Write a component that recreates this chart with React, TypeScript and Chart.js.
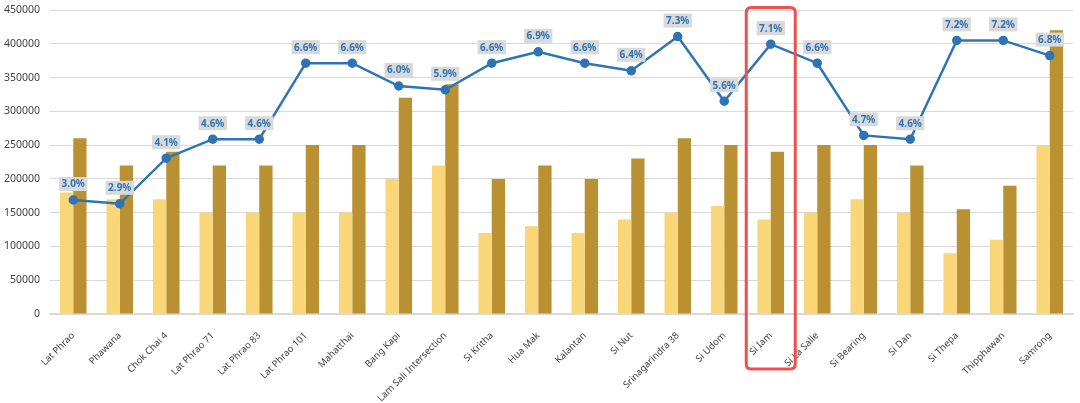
import React, { useEffect, useRef } from "react";
import { Chart, registerables } from "chart.js";

Chart.register(...registerables);

const categories = [
  "Lat Phrao", "Phawana", "Chok Chai 4", "Lat Phrao 71", "Lat Phrao 83", "Lat Phrao 101",
  "Mahatthai", "Bang Kapi", "Lam Sali Intersection", "Si Kritha", "Hua Mak", "Kalantan",
  "Si Nut", "Srinagarindra 38", "Si Udom", "Si Iam", "Si La Salle", "Si Bearing",
  "Si Dan", "Si Thepa", "Thipphawan", "Samrong",
];

const lightValues = [
  180000, 170000, 170000, 150000, 150000, 150000, 150000, 200000, 220000, 120000, 130000,
  120000, 140000, 150000, 160000, 140000, 150000, 170000, 150000, 90000, 110000, 250000,
];

const darkValues = [
  260000, 220000, 240000, 220000, 220000, 250000, 250000, 320000, 340000, 200000, 220000,
  200000, 230000, 260000, 250000, 240000, 250000, 250000, 220000, 155000, 190000, 420000,
];

const pctValues = [
  3.0, 2.9, 4.1, 4.6, 4.6, 6.6, 6.6, 6.0, 5.9, 6.6, 6.9,
  6.6, 6.4, 7.3, 5.6, 7.1, 6.6, 4.7, 4.6, 7.2, 7.2, 6.8,
];

const yTicks = [0, 50000, 100000, 150000, 200000, 250000, 300000, 350000, 400000, 450000];

const highlightCategory = "Si Iam";

const FONT = "'Noto Sans', 'DejaVu Sans', sans-serif";

const labelPlugin = {
  id: "pctLabels",
  afterDatasetsDraw(chart: any) {
    const ctx = chart.ctx;
    const meta = chart.getDatasetMeta(2);
    ctx.save();
    ctx.font = `bold 10px ${FONT}`;
    ctx.textAlign = "center";
    ctx.textBaseline = "middle";
    meta.data.forEach((pt: any, i: number) => {
      const txt = pctValues[i].toFixed(1) + "%";
      const w = ctx.measureText(txt).width + 5;
      const h = 14;
      const cx = pt.x;
      const cy = pt.y - 16;
      ctx.fillStyle = "#d9d9d9";
      ctx.fillRect(cx - w / 2, cy - h / 2, w, h);
      ctx.fillStyle = "#2e74b5";
      ctx.fillText(txt, cx, cy + 0.5);
    });
    ctx.restore();
  },
};

const highlightPlugin = {
  id: "highlightBox",
  afterDraw(chart: any) {
    const ctx = chart.ctx;
    const idx = categories.indexOf(highlightCategory);
    const xs = chart.scales.x;
    const cx = xs.getPixelForValue(idx);
    const left = cx - 24.5;
    const right = cx + 24.5;
    const top = chart.chartArea.top - 2.5;
    const bottom = chart.chartArea.bottom + 55;
    const r = 5;
    ctx.save();
    ctx.strokeStyle = "#ef4f4f";
    ctx.lineWidth = 3;
    ctx.beginPath();
    ctx.moveTo(left + r, top);
    ctx.lineTo(right - r, top);
    ctx.quadraticCurveTo(right, top, right, top + r);
    ctx.lineTo(right, bottom - r);
    ctx.quadraticCurveTo(right, bottom, right - r, bottom);
    ctx.lineTo(left + r, bottom);
    ctx.quadraticCurveTo(left, bottom, left, bottom - r);
    ctx.lineTo(left, top + r);
    ctx.quadraticCurveTo(left, top, left + r, top);
    ctx.closePath();
    ctx.stroke();
    ctx.restore();
  },
};

export default function App() {
  const ref = useRef<HTMLCanvasElement | null>(null);

  useEffect(() => {
    document.body.style.margin = "0";
    const chart = new Chart(ref.current as HTMLCanvasElement, {
      type: "bar",
      data: {
        labels: categories,
        datasets: [
          {
            type: "bar",
            label: "Light",
            data: lightValues,
            backgroundColor: "#f9d779",
            categoryPercentage: 0.572,
            barPercentage: 1.0,
            order: 2,
            yAxisID: "y",
          },
          {
            type: "bar",
            label: "Dark",
            data: darkValues,
            backgroundColor: "#b99133",
            categoryPercentage: 0.572,
            barPercentage: 1.0,
            order: 2,
            yAxisID: "y",
          },
          {
            type: "line",
            label: "Pct",
            data: pctValues,
            borderColor: "#2e74b5",
            backgroundColor: "#2e74b5",
            borderWidth: 2.5,
            pointRadius: 3.5,
            pointBackgroundColor: "#2e74b5",
            pointBorderColor: "#2e74b5",
            tension: 0,
            order: 1,
            yAxisID: "y1",
            clip: false,
          },
        ] as any,
      },
      options: {
        animation: false,
        responsive: false,
        maintainAspectRatio: false,
        layout: { autoPadding: false, padding: { top: 10, right: 7, left: 0, bottom: 0 } },
        plugins: {
          legend: { display: false },
          tooltip: { enabled: false },
        },
        scales: {
          x: {
            grid: { display: false },
            border: { display: true, color: "#d9d9d9", width: 1.5 },
            ticks: {
              color: "#404040",
              font: { family: FONT, size: 9.5 },
              minRotation: 45,
              maxRotation: 45,
              autoSkip: false,
              padding: 8,
            },
            afterFit(scale: any) {
              scale.height = 89;
              scale.paddingTop = 0;
              scale.paddingBottom = 0;
            },
          },
          y: {
            min: 0,
            max: 450000,
            afterBuildTicks(scale: any) {
              scale.ticks = yTicks.map((v) => ({ value: v }));
            },
            grid: { color: "#d9d9d9", drawTicks: false, lineWidth: 1 },
            border: { display: false },
            ticks: {
              color: "#404040",
              font: { family: FONT, size: 10.5 },
              padding: 10,
              callback: (v: any) => String(v),
            },
            afterFit(scale: any) {
              scale.width = 50;
              scale.paddingTop = 0;
              scale.paddingBottom = 0;
            },
          },
          y1: {
            display: false,
            min: 0,
            max: 8,
          },
        },
      },
      plugins: [labelPlugin, highlightPlugin],
    });
    return () => chart.destroy();
  }, []);

  return (
    <div style={{ position: "absolute", left: 0, top: 0, width: 1080, height: 403, background: "#fff" }}>
      <canvas ref={ref} width={1080} height={403} style={{ width: 1080, height: 403, display: "block" }} />
    </div>
  );
}
